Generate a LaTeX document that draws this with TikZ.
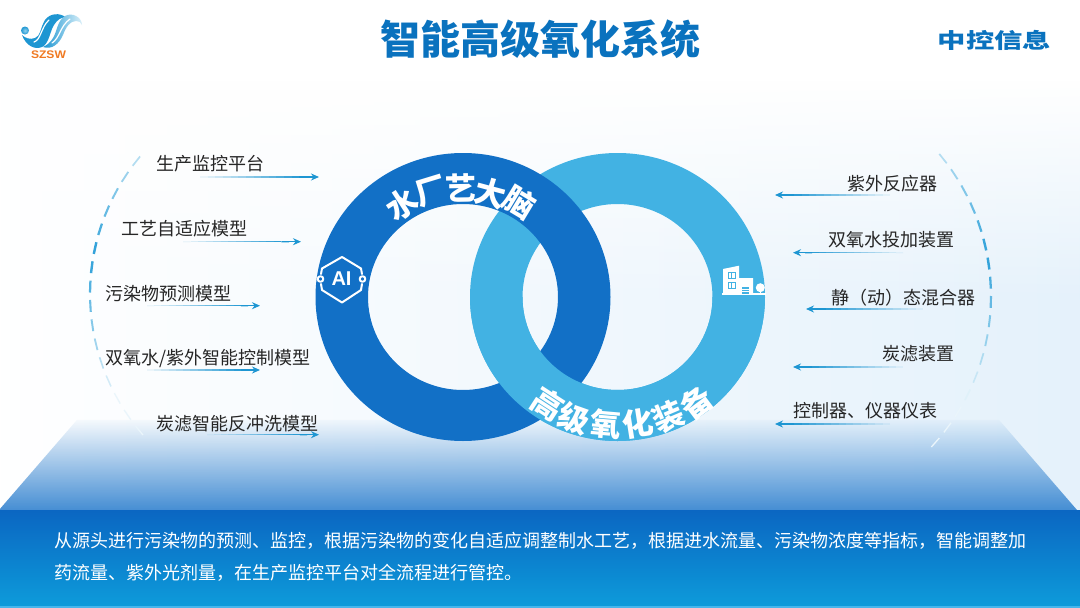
\documentclass[tikz,border=0pt]{standalone}
\usepackage{fontspec}
\setmainfont{Noto Sans CJK SC}
\newfontfamily\latinbold{Liberation Sans}
\newfontfamily\cjkblack{Noto Sans CJK SC Black}
\usetikzlibrary{arrows.meta,fadings,calc}
\definecolor{ringdark}{HTML}{1270C6}
\definecolor{ringlight}{HTML}{42B2E3}
\definecolor{titleblue}{HTML}{0A72BE}
\definecolor{arrowblue}{HTML}{1E96D2}
\definecolor{dashblue}{HTML}{2A9FD8}
\definecolor{labelink}{HTML}{262626}
\definecolor{tintblue}{HTML}{E4F1FB}
\definecolor{floorblue}{HTML}{3F8AD2}
\definecolor{bandtop}{HTML}{0B66C2}
\definecolor{bandbot}{HTML}{0D9BDA}
\definecolor{bandedge}{HTML}{45B6EC}
\definecolor{logoorange}{HTML}{F07A22}
\tikzfading[name=fadedown, top color=transparent!100, bottom color=transparent!0]
\tikzfading[name=floorfade, top color=transparent!100, middle color=transparent!65, bottom color=transparent!0]
\tikzset{
  lab/.style={font=\fontsize{18}{20}\selectfont, text=labelink, inner sep=0pt, anchor=west},
  arcword/.style={font=\fontsize{31}{33}\selectfont\bfseries, text=white, inner sep=0pt},
  flowline/.style={line width=1.2pt, draw=arrowblue, -{Stealth[length=8pt,width=7pt]}},
  flowtail/.style={line width=1.2pt, draw=arrowblue},
  icon/.style={draw=white, line width=2pt, line join=round, line cap=round},
}
\newcommand{\arctop}[4]{\node[arcword, rotate=-#3] (#1) at ({463+#4*sin(#3)},{297-#4*cos(#3)}) {#2};}
\newcommand{\arcbot}[4]{\node[arcword, rotate=#3] (#1) at ({617.5+#4*sin(#3)},{297+#4*cos(#3)}) {#2};}
\newcommand{\flowtailfade}[1]{%
  \foreach \i in {1,...,14}{
    \pgfmathsetmacro\fa{(\i-1)/14}
    \pgfmathsetmacro\fb{\i/14}
    \pgfmathsetmacro\op{\i/14}
    \draw[flowtail, draw opacity=\op] ($(#1s)!\fa!(#1k)$) -- ($(#1s)!\fb!(#1k)$);
  }%
}
% name, label, label-x, label-y, start-x, tip-x, arrow-y
\newcommand{\rightflow}[7]{%
  \node[lab] (#1) at (#3,#4) {#2};
  \coordinate (#1s) at (#5,#7);
  \coordinate (#1t) at (#6,#7);
  \coordinate (#1k) at ($(#1t)+(-12,0)$);
  \flowtailfade{#1}
  \draw[flowline] (#1k) -- (#1t);
}
\newcommand{\leftflow}[7]{%
  \node[lab, anchor=east] (#1) at (#3,#4) {#2};
  \coordinate (#1s) at (#5,#7);
  \coordinate (#1t) at (#6,#7);
  \coordinate (#1k) at ($(#1t)+(12,0)$);
  \flowtailfade{#1}
  \draw[flowline] (#1k) -- (#1t);
}
\begin{document}
\begin{tikzpicture}[x=1pt,y=-1pt]
\useasboundingbox (0,0) rectangle (1080,608);
\fill[white] (0,0) rectangle (1080,608);
% background tint
\shade[left color=white, right color=tintblue, path fading=fadedown] (-20,80) rectangle (1100,300);
\shade[left color=white, right color=tintblue] (-20,299.5) rectangle (1100,510);
% floor trapezoid
\fill[floorblue, path fading=floorfade, fading transform={yscale=1.08}] (78,420) -- (1002,420) -- (1080,510) -- (0,510) -- cycle;
% bottom band
\shade[top color=bandtop, bottom color=bandbot] (0,510) rectangle (1080,606);
\fill[bandedge] (0,606) rectangle (1080,608);
% title
\node[font=\fontsize{40}{42}\selectfont\bfseries, text=titleblue, inner sep=0pt] (title) at (540,39) {智能高级氧化系统};
% left logo
\shade[inner color=ringlight!60!white, outer color=arrowblue] (25,30.5) circle[radius=4];
\fill[arrowblue] (22,35) .. controls (26,46) and (35,50) .. (42,47) .. controls (49,44) and (50,31) .. (54,25) .. controls (57,20) and (61,17) .. (66,17.5)
  .. controls (60,12.5) and (50,13) .. (45,20) .. controls (40,28) and (41,36) .. (35,38) .. controls (30,40) and (25,38) .. (22,35) -- cycle;
\shade[left color=arrowblue, right color=ringlight!20!white]
  (43,47) .. controls (52,50) and (59,44) .. (63,35) .. controls (66,27) and (70,21) .. (76,21) .. controls (79,21) and (81,22) .. (82,25)
  .. controls (82,17) and (72,12) .. (65,16) .. controls (57,21) and (57,32) .. (53,38) .. controls (50,43) and (47,45) .. (43,47) -- cycle;
\draw[white, line width=1.2pt, line cap=round] (34,42) .. controls (41,40) and (41,27) .. (49,20);
\draw[white, line width=1.2pt, line cap=round] (52,43) .. controls (60,38) and (60,26) .. (70,19);
\node[font=\latinbold\fontsize{11}{12}\selectfont\bfseries, text=logoorange, inner sep=0pt, xscale=1.1, transform shape] (szsw) at (48.5,54.5) {SZSW};
% right logo
\node[font=\cjkblack\fontsize{21}{22}\selectfont, text=titleblue, inner sep=0pt, xscale=1.35, transform shape] (vendor) at (994.5,40) {中控信息};
% rings
\fill[ringlight, even odd rule] (617.5,297) ellipse[x radius=147.5,y radius=144] (617.5,297) ellipse[x radius=95,y radius=93];
\fill[ringdark, even odd rule] (463,297) ellipse[x radius=147.5,y radius=144] (463,297) ellipse[x radius=95,y radius=93];
\begin{scope}
  \clip (440,297) rectangle (790,460);
  \fill[ringlight, even odd rule] (617.5,297) ellipse[x radius=147.5,y radius=144] (617.5,297) ellipse[x radius=95,y radius=93];
\end{scope}
% ring words
\arctop{ta}{水}{-33}{111}
\arctop{tb}{厂}{-17}{110}
\arctop{tc}{艺}{-1}{109}
\arctop{td}{大}{15}{108}
\arctop{te}{脑}{31}{110}
\arcbot{ba}{高}{-33}{128}
\arcbot{bb}{级}{-19.5}{129}
\arcbot{bc}{氧}{-5}{128}
\arcbot{bd}{化}{9}{128}
\arcbot{be}{装}{23}{130}
\arcbot{bf}{备}{37}{132}
% AI icon
\draw[icon] (321,274) -- (322,268.5) -- (342,257) -- (361,268.5) -- (362,274);
\draw[icon] (321,284) -- (322,290) -- (342,302.5) -- (361,290) -- (362,284);
\draw[icon, fill=ringdark] (320.5,279) circle[radius=2.8];
\draw[icon, fill=ringdark] (362.5,279) circle[radius=2.8];
\node[font=\latinbold\fontsize{20}{21}\selectfont\bfseries, text=white, inner sep=0pt] (ai) at (341.5,279) {AI};
% building icon
\fill[white] (723,269) -- (739,265.7) -- (739,278) -- (753,278) -- (753,293.5) -- (723,293.5) -- cycle;
\fill[white] (721.7,293.2) rectangle (765.7,294.8);
\draw[ringlight, line width=.7pt] (728,272.7) rectangle (735,278) (731.5,272.7) -- (731.5,278);
\draw[ringlight, line width=.7pt] (728,282.7) rectangle (735,288) (731.5,282.7) -- (731.5,288);
\fill[ringlight] (741.7,287) rectangle (749.3,294);
\draw[white, line width=.5pt] (741.7,289.2) -- (749.3,289.2) (741.7,291.5) -- (749.3,291.5);
\fill[white] (760.3,287.7) circle[radius=4.5];
\fill[white] (759.7,290) rectangle (760.9,294);
% left dashes
\foreach \t in {-40,-34.8,...,41}{
  \pgfmathsetmacro\m{max(10,100-abs(\t+12)*2.3)}
  \pgfmathsetmacro\w{1.2+1.3*\m/100}
  \draw[draw=dashblue!\m!white, line width=\w pt] ({304-214*cos(\t)},{294+214*sin(\t)}) -- ({304-214*cos(\t+3.2)},{294+214*sin(\t+3.2)});
}
% right dashes
\foreach \t in {-40,-35,...,41}{
  \pgfmathsetmacro\m{max(10,100-abs(\t+12)*2.3)}
  \pgfmathsetmacro\w{1.2+1.3*\m/100}
  \draw[draw=dashblue!\m!white, line width=\w pt] ({770+221*cos(\t)},{296+221*sin(\t)}) -- ({770+221*cos(\t+3.1)},{296+221*sin(\t+3.1)});
}
% left labels
\rightflow{la}{生产监控平台}{156}{164}{200}{319}{177}
\rightflow{lb}{工艺自适应模型}{121}{229}{183}{301}{241.7}
\rightflow{lc}{污染物预测模型}{105}{294}{147}{260}{305.7}
\rightflow{ld}{双氧水/紫外智能控制模型}{105}{359}{147}{260}{370}
\rightflow{le}{炭滤智能反冲洗模型}{156}{424}{207}{319}{434.7}
% right labels
\leftflow{ra}{紫外反应器}{938}{184}{890}{775}{195}
\leftflow{rb}{双氧水投加装置}{955}{240}{903}{793}{252.7}
\leftflow{rc}{静（动）态混合器}{976}{298}{923}{806}{309}
\leftflow{rd}{炭滤装置}{955}{354}{903}{793}{367}
\leftflow{re}{控制器、仪器仪表}{938}{411}{890}{775}{424}
% description
\node[font=\fontsize{18}{32}\selectfont, text=white, inner sep=0pt, anchor=north west, align=left] (desc) at (54,532)
 {从源头进行污染物的预测、监控，根据污染物的变化自适应调整制水工艺，根据进水流量、污染物浓度等指标，智能调整加\\
  药流量、紫外光剂量，在生产监控平台对全流程进行管控。};
\end{tikzpicture}
\end{document}
